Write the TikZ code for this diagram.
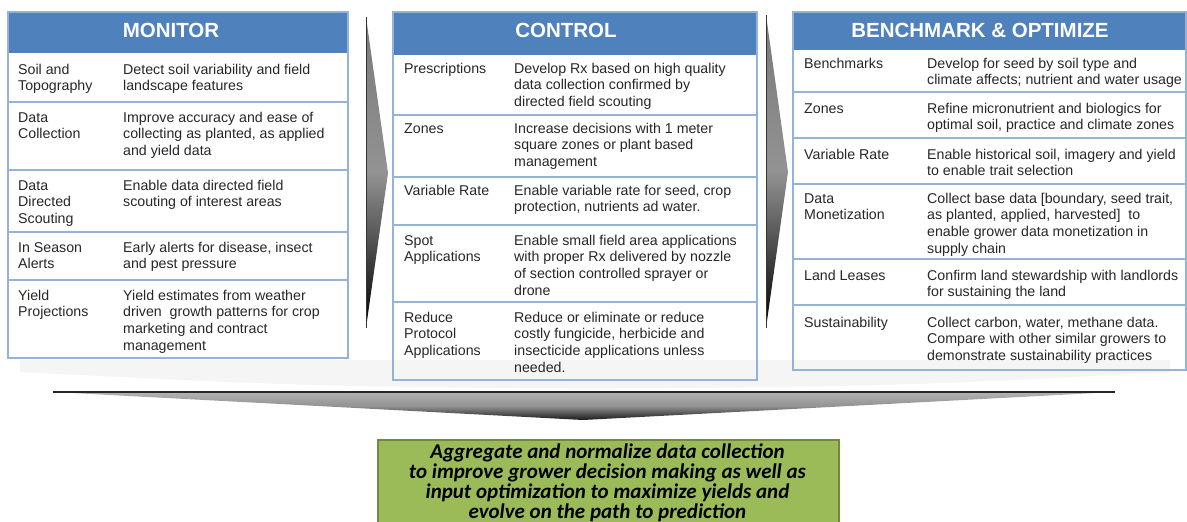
\documentclass[tikz,border=0pt]{standalone}
\usepackage{fontspec}
\setmainfont{Liberation Sans}
\newfontfamily\greenfont{Carlito}
\definecolor{hdrblue}{RGB}{79,129,189}
\definecolor{tblline}{RGB}{149,179,215}
\definecolor{txtgray}{RGB}{38,38,38}
\definecolor{greenfill}{RGB}{155,187,89}
\definecolor{greenborder}{RGB}{113,137,63}
\newcommand\tblfont{\fontsize{14.2}{16.8}\selectfont}
\newcommand\hdrfont{\fontsize{20.5}{24}\selectfont\bfseries}
% name, x, first baseline, number of lines, text
\newcommand\tcell[5]{\node[celltext] (#1) at (#2,{#3+(#4-1)*16.8}) {#5};}
\begin{document}
\begin{tikzpicture}[x=1pt,y=-1pt,
  celltext/.style={anchor=base west, inner sep=0pt, align=left, font=\tblfont, text=txtgray},
  hdrtext/.style={anchor=base, inner sep=0pt, font=\hdrfont, text=white},
  frame/.style={draw=tblline, line width=1.3pt},
  rowline/.style={draw=tblline, line width=1.1pt},
  sidearrow/.style={top color=gray!95!black, bottom color=black, middle color=gray!85},
]
\useasboundingbox (0,0) rectangle (1187,522);

% faint reflection band
\fill[gray!8] (20,360) -- (1170,360) -- (1170,372) .. controls (900,386) .. (590,389) .. controls (300,386) .. (20,372) -- cycle;

% ---------------- MONITOR ----------------
\fill[hdrblue] (8,12) rectangle (348,53);
\node[hdrtext] (monh) at (171,37) {MONITOR};
\draw[rowline] (8,102) -- (348,102) (8,170) -- (348,170) (8,232) -- (348,232) (8,280) -- (348,280);
\draw[frame] (8,12) rectangle (348,358);
\tcell{m1l}{18}{74}{2}{Soil and\\Topography}
\tcell{m1d}{123}{74}{2}{Detect soil variability and field\\landscape features}
\tcell{m2l}{18}{122}{2}{Data\\Collection}
\tcell{m2d}{123}{122}{3}{Improve accuracy and ease of\\collecting as planted, as applied\\and yield data}
\tcell{m3l}{18}{190}{3}{Data\\Directed\\Scouting}
\tcell{m3d}{123}{190}{2}{Enable data directed field\\scouting of interest areas}
\tcell{m4l}{18}{252}{2}{In Season\\Alerts}
\tcell{m4d}{123}{252}{2}{Early alerts for disease, insect\\and pest pressure}
\tcell{m5l}{18}{300}{2}{Yield\\Projections}
\tcell{m5d}{123}{300}{4}{Yield estimates from weather\\driven\ \ growth patterns for crop\\marketing and contract\\management}

% ---------------- CONTROL ----------------
\fill[hdrblue] (393,12) rectangle (757,55);
\node[hdrtext] (conh) at (566,37) {CONTROL};
\draw[rowline] (393,115) -- (757,115) (393,177) -- (757,177) (393,225) -- (757,225) (393,302) -- (757,302);
\draw[frame] (393,12) rectangle (757,380);
\tcell{c1l}{404}{73}{1}{Prescriptions}
\tcell{c1d}{514}{73}{3}{Develop Rx based on high quality\\data collection confirmed by\\directed field scouting}
\tcell{c2l}{404}{133}{1}{Zones}
\tcell{c2d}{514}{133}{3}{Increase decisions with 1 meter\\square zones or plant based\\management}
\tcell{c3l}{404}{195}{1}{Variable Rate}
\tcell{c3d}{514}{195}{2}{Enable variable rate for seed, crop\\protection, nutrients ad water.}
\tcell{c4l}{404}{245}{2}{Spot\\Applications}
\tcell{c4d}{514}{245}{4}{Enable small field area applications\\with proper Rx delivered by nozzle\\of section controlled sprayer or\\drone}
\tcell{c5l}{404}{322}{3}{Reduce\\Protocol\\Applications}
\tcell{c5d}{514}{322}{4}{Reduce or eliminate or reduce\\costly fungicide, herbicide and\\insecticide applications unless\\needed.}

% ---------------- BENCHMARK ----------------
\fill[hdrblue] (793,12) rectangle (1186,50);
\node[hdrtext] (benh) at (980,37) {BENCHMARK \& OPTIMIZE};
\draw[rowline] (793,92) -- (1186,92) (793,138) -- (1186,138) (793,184) -- (1186,184) (793,259) -- (1186,259) (793,305) -- (1186,305);
\draw[frame] (793,12) rectangle (1186,370);
\tcell{b1l}{804}{68}{1}{Benchmarks}
\tcell{b1d}{927}{68}{2}{Develop for seed by soil type and\\climate affects; nutrient and water usage}
\tcell{b2l}{804}{113}{1}{Zones}
\tcell{b2d}{927}{113}{2}{Refine micronutrient and biologics for\\optimal soil, practice and climate zones}
\tcell{b3l}{804}{159}{1}{Variable Rate}
\tcell{b3d}{927}{159}{2}{Enable historical soil, imagery and yield\\to enable trait selection}
\tcell{b4l}{804}{203}{2}{Data\\Monetization}
\tcell{b4d}{927}{203}{4}{Collect base data [boundary, seed trait,\\as planted, applied, harvested]\ \ to\\enable grower data monetization in\\supply chain}
\tcell{b5l}{804}{280}{1}{Land Leases}
\tcell{b5d}{927}{280}{2}{Confirm land stewardship with landlords\\for sustaining the land}
\tcell{b6l}{804}{327}{1}{Sustainability}
\tcell{b6d}{927}{327}{3}{Collect carbon, water, methane data.\\Compare with other similar growers to\\demonstrate sustainability practices}

% ---------------- side arrows ----------------
\shade[sidearrow] (366,17) -- (388,173) -- (366,328) -- cycle;
\draw[black!80, line width=0.8pt] (366,17) -- (366,328);
\shade[sidearrow] (766,15) -- (788,172) -- (766,328) -- cycle;
\draw[black!80, line width=0.8pt] (766,15) -- (766,328);

% ---------------- bottom arrow ----------------
\shade[top color=gray!60, bottom color=black!90, middle color=gray!85] (53,392) -- (1115,392) -- (583,420) -- cycle;
\draw[black!85, line width=1.4pt] (53,392) -- (1115,392);

% ---------------- green box ----------------
\node[draw=greenborder, fill=greenfill, line width=1.5pt, anchor=north west, minimum width=461pt, minimum height=110pt, inner sep=0pt] (goal) at (377,439) {};
\node[anchor=base, inner sep=0pt, align=center, font=\greenfont\bfseries\itshape\fontsize{21}{20.3}\selectfont, text=black] (goaltext) at (607.5,{458+3*20.3}) {Aggregate and normalize data collection\\to improve grower decision making as well as\\input optimization to maximize yields and\\evolve on the path to prediction};
\end{tikzpicture}
\end{document}
